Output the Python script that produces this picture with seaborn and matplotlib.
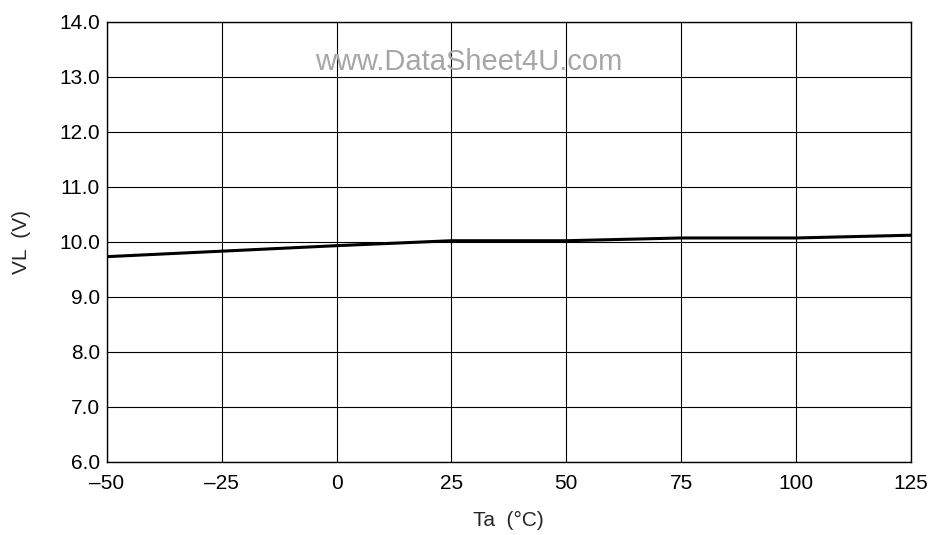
import matplotlib
matplotlib.use("Agg")
import matplotlib.pyplot as plt
import seaborn as sns
import pandas as pd

# Data
temperature = [-50, -25, 0, 25, 50, 75, 100, 125]
vl_volts = [9.73, 9.83, 9.93, 10.02, 10.02, 10.07, 10.07, 10.12]

x_ticks = [-50, -25, 0, 25, 50, 75, 100, 125]
x_tick_labels = ["\u201350", "\u201325", "0", "25", "50", "75", "100", "125"]
y_ticks = [6.0, 7.0, 8.0, 9.0, 10.0, 11.0, 12.0, 13.0, 14.0]

sns.set_style("white")
plt.rcParams["font.family"] = ["Liberation Sans", "DejaVu Sans"]

df = pd.DataFrame({"Ta": temperature, "VL": vl_volts})

fig, ax = plt.subplots(figsize=(9.38, 5.35), dpi=100)
fig.subplots_adjust(left=0.114, right=0.971, top=0.959, bottom=0.137)

sns.lineplot(data=df, x="Ta", y="VL", color="black", linewidth=2.2, ax=ax)

ax.set_xlim(-50, 125)
ax.set_ylim(6, 14)
ax.set_xticks(x_ticks)
ax.set_xticklabels(x_tick_labels)
ax.set_yticks(y_ticks)
ax.set_yticklabels([f"{v:.1f}" for v in y_ticks])
ax.grid(True, color="black", linewidth=0.8)
ax.set_axisbelow(True)
for s in ax.spines.values():
    s.set_color("black")
    s.set_linewidth(1.0)
ax.tick_params(labelsize=15, colors="black", length=0)
ax.tick_params(axis="x", pad=9)
ax.tick_params(axis="y", pad=5)

ax.set_xlabel("Ta  (\u00b0C)", fontsize=15, labelpad=13)
ax.set_ylabel("VL  (V)", fontsize=15, labelpad=20)

# watermark text from the scanned datasheet
ax.text(0.45, 0.908, "www.DataSheet4U.com", transform=ax.transAxes,
        ha="center", va="center", fontsize=21, color="#a6a6a6")

fig.savefig("out.png", dpi=100)
